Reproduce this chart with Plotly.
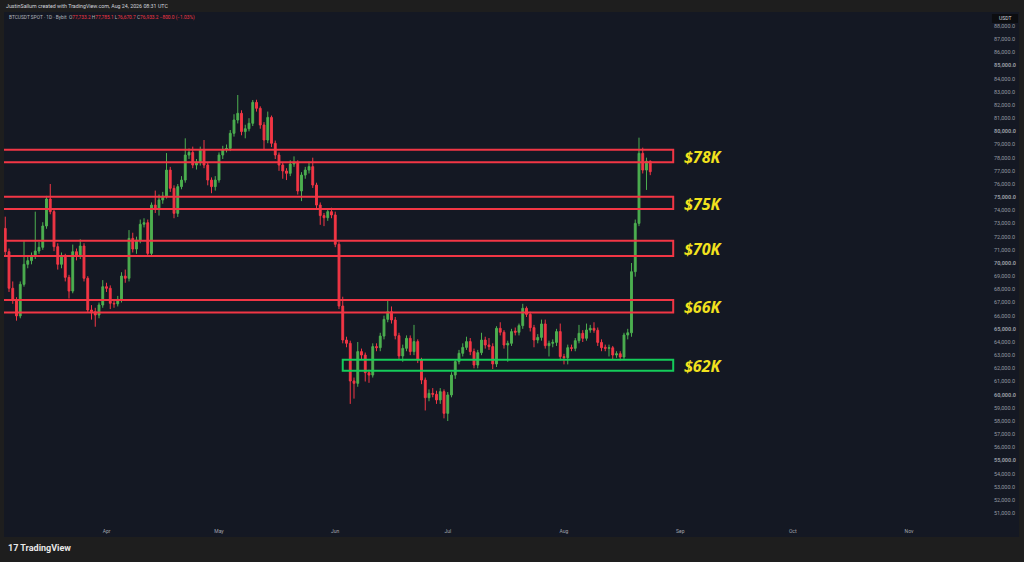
import plotly.graph_objects as go
import pandas as pd

# daily BTCUSDT candles, 5 Mar -> 24 Aug
start_date = "2026-03-05"
opens = [
    72630, 70860, 68080, 67190, 65980, 68380, 69900, 70180, 70530, 70910,
    71190, 72810, 74860, 73900, 71240, 69900, 70530, 68910, 67870, 70860,
    70530, 71290, 68840, 66430, 66300, 66050, 66810, 68200, 68080, 66940,
    66900, 67240, 69010, 68840, 71870, 71060, 71750, 72940, 73060, 70730,
    74400, 74080, 74790, 75090, 77060, 75670, 73770, 75800, 76300, 78200,
    78400, 77440, 77650, 78580, 77440, 76300, 75800, 76300, 78200, 78630,
    78700, 79850, 80860, 81370, 79980, 80200, 80610, 82200, 81750, 80480,
    79340, 81060, 79090, 78200, 77440, 76990, 76810, 77520, 77600, 75470,
    76680, 77060, 77320, 75920, 74400, 73600, 73440, 73900, 73650, 71420,
    66730, 64150, 63900, 61040, 60860, 63270, 63010, 61670, 61490, 63650,
    63570, 64450, 65720, 66300, 65670, 64480, 62940, 63520, 64280, 63270,
    64030, 62630, 61110, 59770, 60100, 60030, 59600, 60230, 58580, 59980,
    61490, 62510, 63140, 63590, 64030, 63270, 62250, 63190, 64150, 63770,
    63650, 62330, 65040, 64740, 63770, 63900, 64830, 64740, 65240, 66560,
    66100, 65090, 64150, 64350, 65370, 63720, 63900, 63970, 64790, 62890,
    62810, 63570, 63520, 64100, 64660, 64280, 64910, 65040, 64890, 63970,
    63600, 63520, 63560, 63010, 63110, 62860, 64530, 64700, 69340, 73010,
    78330, 77060, 77733,
]
highs = [
    73520, 71100, 68600, 67400, 68600, 71750, 70500, 70800, 73900, 71600,
    73100, 75100, 76000, 74100, 71500, 70800, 70700, 69100, 71400, 71100,
    71800, 71500, 69000, 66800, 66600, 67000, 68700, 68500, 68300, 67200,
    67500, 69300, 69500, 72500, 72300, 72000, 73300, 73400, 73300, 74600,
    75500, 75200, 75400, 78350, 77300, 75900, 76000, 76600, 79470, 78700,
    78840, 77900, 78840, 79340, 77600, 76500, 76600, 78400, 78900, 79000,
    80100, 81300, 82760, 81600, 80500, 81000, 82380, 82400, 81900, 80700,
    81500, 81200, 79300, 78400, 77600, 77200, 77800, 78100, 77800, 76900,
    77300, 77700, 78000, 76100, 74600, 73800, 74100, 74200, 73900, 71600,
    67440, 64400, 64100, 61300, 64000, 63500, 63200, 61900, 63900, 63900,
    64700, 66000, 67170, 66700, 65900, 64700, 63800, 64500, 64500, 65300,
    64200, 62800, 61300, 60400, 60500, 60300, 60500, 60400, 60200, 61700,
    62700, 63400, 63900, 64400, 64300, 63500, 63400, 64700, 64400, 64300,
    63900, 65200, 65500, 64900, 64100, 65000, 65100, 65400, 66900, 66700,
    66300, 65300, 64600, 65700, 65700, 64100, 64200, 65000, 65400, 63100,
    63800, 63800, 64300, 65300, 64900, 65400, 65300, 65500, 65100, 64200,
    63800, 63800, 63700, 63300, 63300, 64700, 65000, 70000, 73300, 79520,
    78760, 78000, 77785,
]
lows = [
    70600, 67800, 66900, 65620, 65800, 68200, 69600, 69900, 70300, 70700,
    71000, 72600, 73700, 70900, 69500, 69600, 68600, 67300, 67700, 70200,
    70300, 68600, 66200, 65700, 65160, 65800, 66600, 67800, 66500, 66600,
    66700, 67000, 68500, 68600, 70800, 70700, 71500, 72700, 70500, 70500,
    73800, 73600, 74500, 74900, 75400, 73400, 73500, 75600, 76100, 77900,
    77200, 77100, 77400, 77200, 75900, 75300, 75500, 76100, 77900, 78400,
    78500, 79600, 80600, 79700, 79470, 80000, 80400, 81500, 80200, 78600,
    79100, 78800, 77900, 77000, 76400, 76300, 76600, 77300, 75200, 74700,
    76400, 76800, 75700, 74100, 72900, 72800, 73200, 73400, 71200, 66500,
    63900, 63600, 59300, 59700, 60600, 62700, 61000, 60900, 61300, 63300,
    63300, 64200, 65500, 65400, 64200, 62700, 62500, 63300, 63000, 63000,
    62400, 60800, 58800, 59500, 59800, 59300, 59300, 58200, 58000, 59800,
    61200, 62300, 62900, 63400, 63000, 62000, 62000, 63000, 63500, 63400,
    61950, 62100, 64500, 63500, 62500, 63700, 64500, 64500, 65000, 65900,
    64800, 63600, 63900, 64100, 63500, 62900, 63600, 63700, 62600, 62300,
    62300, 63300, 63300, 63900, 64000, 64100, 64700, 64700, 63700, 63300,
    63300, 62900, 62700, 62800, 62600, 62700, 64200, 64400, 68960, 72800,
    76800, 75550, 76671,
]
closes = [
    70860, 68080, 67190, 65980, 68380, 69900, 70180, 70530, 70910, 71190,
    72810, 74860, 73900, 71240, 69900, 70530, 68910, 67870, 70860, 70530,
    71290, 68840, 66430, 66300, 66050, 66810, 68200, 68080, 66940, 66900,
    67240, 69010, 68840, 71870, 71060, 71750, 72940, 73060, 70730, 74400,
    74080, 74790, 75090, 77060, 75670, 73770, 75800, 76300, 78200, 78400,
    77440, 77650, 78580, 77440, 76300, 75800, 76300, 78200, 78630, 78700,
    79850, 80860, 81370, 79980, 80200, 80610, 82200, 81750, 80480, 79340,
    81060, 79090, 78200, 77440, 76990, 76810, 77520, 77600, 75470, 76680,
    77060, 77320, 75920, 74400, 73600, 73440, 73900, 73650, 71420, 66730,
    64150, 63900, 61040, 60860, 63270, 63010, 61670, 61490, 63650, 63570,
    64450, 65720, 66300, 65670, 64480, 62940, 63520, 64280, 63270, 64030,
    62630, 61110, 59770, 60100, 60030, 59600, 60230, 58580, 59980, 61490,
    62510, 63140, 63590, 64030, 63270, 62250, 63190, 64150, 63770, 63650,
    62330, 65040, 64740, 63770, 63900, 64790, 64740, 65240, 66560, 66100,
    65090, 64150, 64350, 65370, 63720, 63900, 63970, 64790, 62890, 62810,
    63570, 63520, 64100, 64660, 64280, 64910, 65040, 64890, 63970, 63570,
    63520, 63560, 63010, 63110, 62860, 64530, 64700, 69340, 73010, 78330,
    77060, 77733, 76933,
]
dates = pd.date_range(start_date, periods=len(closes), freq="D")

# support / resistance zones
zone_labels = ["$78K", "$75K", "$70K", "$66K", "$62K"]
zone_low = [77650, 74100, 70530, 66250, 61820]
zone_high = [78600, 75040, 71690, 67190, 62650]
zone_start = ["2026-02-15", "2026-02-15", "2026-02-15", "2026-02-15", "2026-06-03"]
zone_end = "2026-08-30 03:00"
zone_colors = ["#f23645", "#f23645", "#f23645", "#f23645", "#14cc5a"]

tick_vals = list(range(51000, 89000, 1000))

UP = "#4caf50"
DOWN = "#f23645"
PANEL = "#141823"
OUTER = "#1e1e1e"
FONT = "Roboto"

fig = go.Figure()
fig.add_trace(go.Candlestick(
    x=dates, open=opens, high=highs, low=lows, close=closes,
    increasing=dict(line=dict(color=UP, width=1), fillcolor=UP),
    decreasing=dict(line=dict(color=DOWN, width=1), fillcolor=DOWN),
    whiskerwidth=0, showlegend=False, hoverinfo="skip",
))

# panel behind the axes strips
fig.add_shape(type="rect", xref="paper", yref="paper", x0=0, x1=1.0347, y0=-0.0214, y1=1,
              fillcolor=PANEL, line_width=0, layer="below")

for lab, lo, hi, x0, col in zip(zone_labels, zone_low, zone_high, zone_start, zone_colors):
    fig.add_shape(type="rect", x0=x0, x1=zone_end, y0=lo, y1=hi,
                  line=dict(color=col, width=2), fillcolor="rgba(0,0,0,0)", layer="above")
    fig.add_annotation(x="2026-09-07", y=(lo + hi) / 2, text=lab, showarrow=False,
                       xanchor="center", yanchor="middle", yshift=-1,
                       font=dict(family="Open Sans", size=16, color="#f2e21e",
                                 weight="bold", style="italic"))

tick_text = []
for v in tick_vals:
    s = f"{v:,.1f}"
    tick_text.append(f"<b>{s}</b>" if v % 5000 == 0 else s)

# header lines
fig.add_annotation(xref="paper", yref="paper", x=0.0005, y=1.0117, xanchor="left", yanchor="middle",
                   text="JustinSallum created with TradingView.com, Aug 24, 2026 08:31 UTC",
                   showarrow=False, font=dict(family=FONT, size=5.3, color="#d1d4dc"))
red = "#f23645"
ohlc = (f"BTCUSDT SPOT · 1D · Bybit&nbsp;&nbsp;O<span style='color:{red}'>77,733.2</span>"
        f" H<span style='color:{red}'>77,785.1</span> L<span style='color:{red}'>76,670.7</span>"
        f" C<span style='color:{red}'>76,933.2</span> <span style='color:{red}'>−800.0 (−1.03%)</span>")
fig.add_annotation(xref="paper", yref="paper", x=0.003, y=0.990, xanchor="left", yanchor="middle",
                   text=ohlc, showarrow=False, font=dict(family=FONT, size=4.8, color="#b2b5be"))

# price scale currency tag
fig.add_shape(type="rect", xref="paper", yref="paper", x0=1.0071, x1=1.0336, y0=0.9786, y1=0.9961,
              fillcolor="#0c0d10", line_width=0, layer="above")
fig.add_annotation(xref="paper", yref="paper", x=1.0204, y=0.9874, text="USDT", showarrow=False,
                   xanchor="center", yanchor="middle", font=dict(family=FONT, size=5, color="#d1d4dc"))

# logo
fig.add_annotation(xref="paper", yref="paper", x=0.002, y=-0.0428, xanchor="left", yanchor="middle",
                   text="<b>17</b> TradingView", showarrow=False,
                   font=dict(family=FONT, size=9, color="#e8e8e8", weight="bold"))

fig.update_layout(
    width=1024, height=562,
    margin=dict(l=4, r=39, t=12, b=36),
    paper_bgcolor=OUTER, plot_bgcolor=PANEL,
    font=dict(family=FONT, color="#a3a6af"),
    xaxis=dict(
        type="date", range=["2026-03-04 16:00", "2026-11-21 06:30"],
        rangeslider=dict(visible=False), showgrid=False, zeroline=False,
        dtick="M1", tickformat="%b", ticks="", ticklabelstandoff=1,
        tickfont=dict(size=5, color="#a3a6af"), showline=False,
    ),
    yaxis=dict(
        side="right", range=[50025, 89064], showgrid=False, zeroline=False,
        tickvals=tick_vals, ticktext=tick_text, ticks="", ticklabelstandoff=8,
        tickfont=dict(size=5.5, color="#9598a1"), showline=False,
    ),
)

fig.write_html("out.html", config={"displayModeBar": False},
               post_script="document.body.style.margin='0';document.body.style.background='#1e1e1e';")
